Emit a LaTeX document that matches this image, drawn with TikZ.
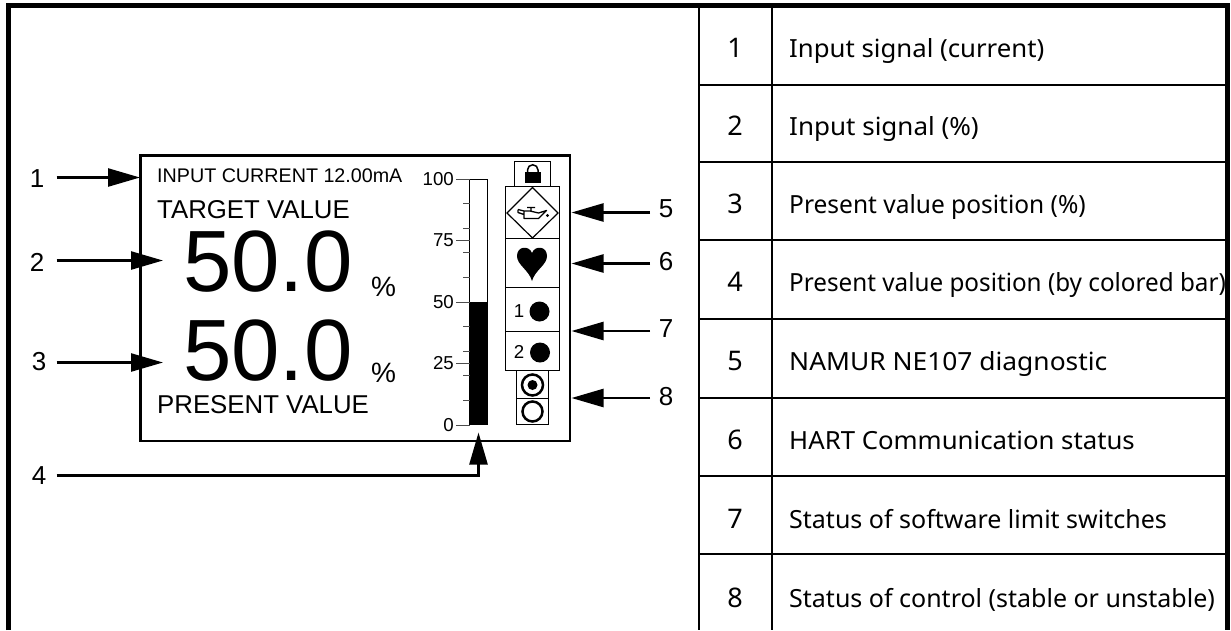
\documentclass[tikz,border=0pt]{standalone}
\usepackage{fontspec}
\setmainfont{Liberation Sans}
\newfontfamily\tablefont{Noto Sans}
\usetikzlibrary{arrows.meta}
\tikzset{
  callout/.style={line width=2.5pt,-{Triangle[length=32pt,width=18pt]}},
  calloutnum/.style={inner sep=0pt,font=\fontsize{26}{26}\selectfont},
  rowtext/.style={anchor=base west,inner sep=0pt,font=\tablefont\fontsize{25}{30}\selectfont},
  rownum/.style={anchor=base,inner sep=0pt,font=\tablefont\fontsize{27}{30}\selectfont},
  lcdtext/.style={anchor=west,inner sep=0pt},
  scalenum/.style={anchor=east,inner sep=0pt,font=\fontsize{18.7}{19}\selectfont},
  iconbox/.style={draw,line width=1pt},
}
\begin{document}
\begin{tikzpicture}[x=1pt,y=-1pt]
    \useasboundingbox (0,0) rectangle (1231,630);
    \fill[white] (0,0) rectangle (1231,630);

    % outer frame, open at the bottom
    \draw[line width=5pt] (8.5,630) -- (8.5,5.5) -- (1227,5.5) -- (1227,630);

    % table on the right
    \draw[line width=2pt] (699,8) -- (699,630);
    \draw[line width=2pt] (771.5,8) -- (771.5,630);
    \foreach \y in {84.5,162,240,319,398,476,554} \draw[line width=2pt] (699,\y) -- (1225,\y);

    \node[rownum] (n1) at (735,57) {1};
    \node[rownum] (n2) at (735,135) {2};
    \node[rownum] (n3) at (735,213) {3};
    \node[rownum] (n4) at (735,291) {4};
    \node[rownum] (n5) at (735,370) {5};
    \node[rownum] (n6) at (735,449) {6};
    \node[rownum] (n7) at (735,528) {7};
    \node[rownum] (n8) at (735,607) {8};

    \node[rowtext,xscale=1.03] (t1) at (789,57) {Input signal (current)};
    \node[rowtext,xscale=1.04] (t2) at (789,135) {Input signal (\%)};
    \node[rowtext,xscale=0.98] (t3) at (789,213) {Present value position (\%)};
    \node[rowtext,xscale=0.97] (t4) at (789,291) {Present value position (by colored bar)};
    \node[rowtext,xscale=1.055] (t5) at (789,370) {NAMUR NE107 diagnostic};
    \node[rowtext,xscale=1.03] (t6) at (789,449) {HART Communication status};
    \node[rowtext] (t7) at (789,528) {Status of software limit switches};
    \node[rowtext] (t8) at (789,607) {Status of control (stable or unstable)};

    % display
    \draw[line width=2.4pt] (140.5,155.5) rectangle (570,441);

    \node[lcdtext,font=\fontsize{19.7}{20}\selectfont] (inputtxt) at (157,176) {INPUT CURRENT 12.00mA};
    \node[lcdtext,font=\fontsize{25.8}{26}\selectfont] (targettxt) at (157,210) {TARGET VALUE};
    \node[lcdtext,font=\fontsize{87}{87}\selectfont] (targetval) at (183,262) {50.0};
    \node[lcdtext,font=\fontsize{28}{28}\selectfont] (targetpct) at (371,287) {\%};
    \node[lcdtext,font=\fontsize{87}{87}\selectfont] (presentval) at (183,351) {50.0};
    \node[lcdtext,font=\fontsize{28}{28}\selectfont] (presentpct) at (371,373) {\%};
    \node[lcdtext,font=\fontsize{25.8}{26}\selectfont] (presenttxt) at (157,405) {PRESENT VALUE};

    % bar and its scale
    \fill (469.5,302) rectangle (487.5,425);
    \draw[line width=1pt] (469.5,425) -- (469.5,179) -- (487.5,179) -- (487.5,425);
    \foreach \p in {10,20,30,40,60,70,80,90} \draw[line width=1pt,black!70] (463,{425-2.46*\p}) -- (469.5,{425-2.46*\p});
    \foreach \p in {0,25,50,75,100} {
      \draw[line width=1pt,black!70] (456,{425-2.46*\p}) -- (469.5,{425-2.46*\p});
      \node[scalenum] (s\p) at (454,{425-2.46*\p}) {\p};
    }

    % status column
    \draw[iconbox] (514,186) -- (514,161) -- (550.5,161) -- (550.5,186);
    \fill (525,172) rectangle (540.5,183);
    \draw[line width=1.5pt] (527.5,172) -- (527.5,170) arc[start angle=180,end angle=360,radius=5.25] -- (538,172);
    \draw[iconbox] (505.5,186) rectangle (559.5,238.5);
    \draw[iconbox] (505.5,238.5) rectangle (559.5,287.5);
    \draw[iconbox] (505.5,287.5) rectangle (559.5,331);
    \draw[iconbox] (505.5,331) rectangle (559.5,370.5);
    \draw[iconbox] (516.5,370.5) rectangle (548.5,398.5);
    \draw[iconbox] (516.5,398.5) rectangle (548.5,424.5);

    % oil can
    \draw[line width=1.2pt] (507,213) -- (532.5,187.5) -- (558,213) -- (532.5,238) -- cycle;
    \draw[line width=1.3pt,line join=round] (518,209.5) -- (524,211) -- (524,218.5) -- (538.5,218.5) -- (546.5,210.5) -- (538.5,213) -- (530,211) -- (524,211) (518,209.5) -- (518,212.5) -- (524,214.5) (527,207.5) -- (535,207.5) (531,207.5) -- (531,211);
    \fill (547.5,215.5) circle[radius=1.6];

    \fill (532,281) .. controls (529,270) and (517,265) .. (517,256) .. controls (517,246) and (529,245) .. (532,253) .. controls (535,245) and (547,246) .. (547,256) .. controls (547,265) and (535,270) .. (532,281) -- cycle;

    \node[inner sep=0pt,font=\fontsize{18.7}{19}\selectfont] (sw1) at (519,311) {1};
    \fill (539.5,311.5) circle[radius=10];
    \node[inner sep=0pt,font=\fontsize{18.7}{19}\selectfont] (sw2) at (519,352) {2};
    \fill (540,352.5) circle[radius=10];

    \draw[line width=2.5pt] (532.5,385) circle[radius=10.5];
    \fill (532.5,385) circle[radius=5];
    \draw[line width=2.5pt] (532.5,411.5) circle[radius=10];

    % callouts
    \node[calloutnum] (c1) at (37,179) {1};
    \node[calloutnum] (c2) at (37,262) {2};
    \node[calloutnum] (c3) at (39,362) {3};
    \node[calloutnum] (c4) at (39,476) {4};
    \node[calloutnum] (c5) at (666,209) {5};
    \node[calloutnum] (c6) at (666,262) {6};
    \node[calloutnum] (c7) at (666,329) {7};
    \node[calloutnum] (c8) at (666,397) {8};

    \coordinate (e1) at (140,177.5);
    \coordinate (e2) at (163,260.5);
    \coordinate (e3) at (163,362.5);
    \coordinate (e4) at (478.5,432.5);
    \coordinate (b4) at (478.5,475.5);
    \coordinate (e5) at (571.5,212.5);
    \coordinate (e6) at (571.5,263.5);
    \coordinate (e7) at (571.5,331);
    \coordinate (e8) at (571.5,398);

    \draw[callout] (56.5,177.5) -- (e1);
    \draw[callout] (56.5,260.5) -- (e2);
    \draw[callout] (56.5,362.5) -- (e3);
    \draw[callout] (56.5,475.5) -- (b4) -- (e4);
    \draw[callout] (650,212.5) -- (e5);
    \draw[callout] (650,263.5) -- (e6);
    \draw[callout] (650,331) -- (e7);
    \draw[callout] (650,398) -- (e8);
\end{tikzpicture}
\end{document}
